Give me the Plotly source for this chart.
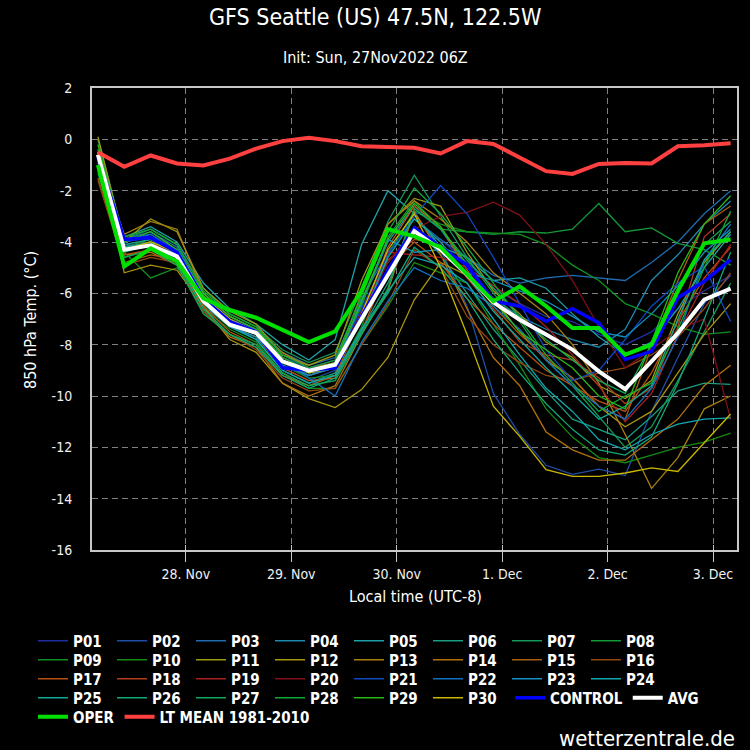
import pandas as pd
import plotly.graph_objects as go

# ---------------- data ----------------
TIMES = pd.date_range("2022-11-27 04:00", periods=25, freq="6h")
DAY_TICKS = ["2022-11-28", "2022-11-29", "2022-11-30", "2022-12-01", "2022-12-02", "2022-12-03"]
DAY_LABELS = ["28. Nov", "29. Nov", "30. Nov", "1. Dec", "2. Dec", "3. Dec"]
Y_TICKS = [-16, -14, -12, -10, -8, -6, -4, -2, 0, 2]
Y_LABELS = ["-16", "-14", "-12", "-10", "-8", "-6", "-4", "-2", "0", "2"]

P01 = [-0.7, -4.0, -3.7, -4.3, -6.1, -7.0, -7.4, -8.5, -9.0, -8.7, -6.8, -4.8, -3.7, -3.9, -4.8, -5.8, -6.4, -6.9, -7.1, -7.6, -8.0, -7.5, -6.6, -5.9, -5.3]
P02 = [-0.9, -4.3, -4.0, -4.6, -6.3, -7.2, -7.6, -8.9, -9.4, -9.0, -6.9, -4.5, -2.9, -4.3, -6.5, -9.9, -11.5, -12.7, -13.05, -12.85, -13.1, -10.6, -8.5, -6.4, -5.3]
P03 = [-0.5, -3.9, -3.6, -4.2, -6.0, -6.9, -7.4, -8.3, -8.8, -8.5, -6.2, -4.4, -3.1, -3.9, -4.6, -5.3, -5.6, -5.4, -5.3, -5.4, -5.5, -4.8, -4.0, -2.9, -2.0]
P04 = [-0.6, -4.0, -3.8, -4.4, -6.2, -7.1, -7.5, -8.6, -9.2, -8.8, -6.4, -4.0, -2.6, -3.5, -5.0, -6.2, -6.9, -7.4, -7.8, -8.1, -7.4, -5.5, -4.5, -3.3, -2.4]
P05 = [-0.4, -3.8, -3.4, -4.0, -5.6, -6.6, -7.2, -8.0, -8.6, -7.8, -4.1, -2.0, -2.9, -4.2, -4.6, -5.5, -5.4, -5.8, -6.8, -7.7, -8.4, -7.9, -6.6, -5.0, -3.7]
P06 = [-0.8, -4.4, -4.1, -4.8, -6.5, -7.3, -7.8, -9.0, -9.5, -9.1, -7.4, -5.6, -3.4, -4.5, -6.0, -7.4, -8.6, -9.8, -10.9, -11.3, -11.7, -10.8, -9.8, -9.5, -9.55]
P07 = [0.0, -3.9, -3.5, -4.1, -5.8, -6.8, -7.3, -8.2, -8.7, -8.3, -5.8, -3.2, -1.4, -3.0, -4.6, -6.0, -7.1, -8.6, -9.6, -10.8, -12.0, -11.2, -9.4, -7.5, -5.6]
P08 = [-0.7, -4.2, -3.9, -4.5, -6.3, -7.2, -7.6, -8.7, -9.1, -8.8, -6.5, -3.8, -2.4, -3.5, -3.6, -3.7, -3.6, -3.65, -3.5, -2.5, -3.6, -3.45, -4.05, -4.3, -4.9]
P09 = [-0.6, -4.4, -5.4, -5.0, -6.4, -7.3, -7.7, -8.8, -9.3, -9.2, -7.3, -4.5, -2.8, -3.3, -3.6, -3.65, -3.7, -4.1, -4.9, -5.5, -6.4, -6.8, -7.3, -7.6, -7.5]
P10 = [-1.1, -4.6, -4.3, -4.9, -6.6, -7.4, -7.9, -9.1, -9.7, -9.7, -8.0, -6.5, -4.8, -5.2, -5.6, -7.2, -8.8, -10.5, -11.6, -12.4, -12.6, -12.3, -12.0, -11.8, -11.45]
P11 = [0.1, -4.0, -3.1, -3.6, -5.8, -6.7, -7.2, -8.4, -8.8, -8.4, -5.5, -3.3, -2.3, -2.6, -4.4, -5.9, -6.8, -7.9, -8.5, -9.6, -10.1, -9.4, -6.8, -4.8, -3.6]
P12 = [-0.5, -5.2, -4.9, -5.1, -6.5, -7.8, -8.3, -9.5, -10.1, -10.45, -9.75, -8.5, -6.25, -4.8, -5.3, -6.2, -7.5, -8.6, -9.3, -10.4, -11.2, -10.6, -9.1, -7.6, -6.4]
P13 = [-0.9, -3.7, -3.2, -3.5, -6.0, -6.9, -7.4, -8.3, -8.9, -8.7, -6.0, -3.3, -2.4, -3.1, -4.0, -5.2, -6.0, -6.8, -8.0, -9.5, -11.5, -13.6, -12.4, -10.5, -10.0]
P14 = [-1.2, -4.5, -4.4, -4.9, -6.7, -7.7, -8.1, -9.5, -10.0, -9.6, -7.6, -5.9, -2.8, -4.5, -6.6, -8.5, -9.6, -11.4, -12.1, -12.5, -12.5, -11.7, -10.9, -9.6, -8.8]
P15 = [-1.5, -4.8, -4.5, -4.7, -6.5, -7.5, -8.0, -9.2, -9.6, -9.2, -6.9, -4.2, -2.6, -3.4, -5.1, -6.5, -7.6, -8.5, -9.3, -10.4, -10.9, -8.1, -5.5, -3.3, -2.6]
P16 = [-1.6, -4.9, -4.6, -4.8, -6.7, -7.6, -8.2, -9.3, -9.8, -9.7, -8.0, -6.4, -4.3, -5.0, -6.9, -8.0, -8.7, -9.2, -9.4, -9.1, -8.9, -8.4, -7.7, -6.6, -5.2]
P17 = [-1.0, -4.5, -4.3, -4.7, -6.4, -7.3, -7.7, -8.9, -9.4, -9.3, -7.5, -5.0, -4.0, -4.8, -6.2, -7.2, -8.1, -9.0, -9.6, -10.2, -10.6, -9.1, -7.1, -5.4, -4.2]
P18 = [-0.8, -4.3, -4.0, -4.5, -6.2, -7.1, -7.5, -8.7, -9.1, -8.9, -7.0, -4.7, -3.9, -4.1, -5.4, -6.6, -7.9, -8.4, -8.6, -9.3, -10.3, -9.7, -7.3, -3.8, -2.9]
P19 = [-0.7, -4.2, -4.0, -4.6, -6.3, -7.2, -7.6, -8.8, -9.2, -8.9, -6.9, -4.4, -4.5, -4.6, -5.0, -5.7, -6.4, -7.3, -8.4, -9.6, -11.0, -9.9, -7.6, -5.6, -4.1]
P20 = [-0.9, -4.2, -4.0, -4.5, -6.2, -7.0, -7.4, -8.5, -8.9, -8.6, -6.7, -4.8, -3.5, -3.0, -2.85, -2.45, -2.95, -4.1, -5.5, -7.3, -8.9, -8.2, -7.4, -7.0, -10.9]
P21 = [-0.6, -4.0, -3.8, -4.3, -6.1, -7.0, -7.4, -8.5, -8.9, -8.6, -6.6, -4.5, -3.0, -1.8, -2.9, -4.6, -6.4, -8.2, -9.4, -9.0, -7.8, -6.5, -5.6, -4.95, -7.1]
P22 = [-0.5, -3.9, -3.7, -4.4, -6.2, -7.1, -7.5, -8.6, -9.3, -10.0, -7.9, -6.3, -5.0, -5.5, -5.8, -6.5, -7.4, -8.6, -9.6, -10.4, -10.9, -9.7, -7.7, -4.7, -3.3]
P23 = [-0.7, -4.1, -4.2, -4.7, -6.3, -7.3, -7.7, -8.8, -9.2, -8.9, -6.3, -3.9, -4.4, -4.3, -5.2, -5.5, -5.9, -6.3, -6.9, -7.5, -7.7, -6.8, -5.7, -4.4, -3.5]
P24 = [-0.8, -4.3, -4.1, -4.6, -6.4, -7.3, -7.8, -9.0, -9.5, -9.2, -7.4, -5.9, -4.6, -4.9, -5.6, -7.0, -8.4, -9.7, -10.6, -11.7, -12.1, -11.5, -11.1, -10.9, -10.85]
P25 = [-0.6, -4.1, -3.9, -4.5, -6.3, -7.2, -7.6, -8.7, -9.1, -8.9, -7.0, -4.6, -3.1, -4.0, -5.3, -6.7, -7.8, -8.9, -9.9, -10.9, -10.4, -9.6, -7.0, -4.7, -3.6]
P26 = [-0.5, -4.2, -4.0, -4.8, -6.6, -7.6, -8.1, -9.2, -9.7, -9.3, -7.5, -6.0, -4.2, -5.0, -6.2, -7.8, -9.1, -10.3, -11.3, -12.1, -12.3, -11.6, -9.5, -7.0, -4.4]
P27 = [-1.3, -4.6, -4.3, -4.9, -6.8, -7.6, -8.0, -9.1, -9.6, -9.4, -7.6, -5.8, -2.7, -3.5, -4.7, -5.8, -6.9, -7.8, -8.6, -9.4, -9.9, -8.0, -6.0, -4.1, -3.2]
P28 = [-0.4, -3.8, -3.5, -4.1, -5.9, -6.8, -7.3, -8.4, -8.9, -8.6, -6.1, -3.6, -1.9, -2.9, -4.2, -5.6, -7.0, -8.4, -9.5, -10.6, -10.0, -9.5, -7.4, -5.0, -2.8]
P29 = [-0.2, -4.0, -3.6, -4.3, -6.0, -6.9, -7.4, -8.5, -9.0, -8.7, -6.3, -3.9, -2.5, -3.4, -4.9, -6.3, -7.5, -8.2, -8.9, -10.0, -10.5, -7.9, -5.2, -3.3, -2.2]
P30 = [-0.5, -4.3, -4.0, -4.4, -6.1, -7.0, -7.5, -8.6, -9.1, -8.9, -6.8, -4.3, -2.9, -5.0, -7.6, -10.4, -11.57, -12.87, -13.13, -13.13, -13.0, -12.8, -12.94, -11.8, -10.7]

CONTROL = [-0.7, -3.9, -3.83, -4.4, -6.2, -7.1, -7.5, -8.9, -9.0, -8.9, -6.9, -5.1, -3.45, -4.2, -4.9, -6.3, -6.5, -7.09, -6.6, -7.15, -8.58, -8.26, -6.17, -5.53, -4.69]
AVG = [-0.6, -4.3, -4.13, -4.56, -6.3, -7.22, -7.54, -8.65, -9.01, -8.78, -7.0, -5.3, -3.58, -4.3, -5.27, -6.35, -7.03, -7.6, -8.19, -9.04, -9.73, -8.65, -7.55, -6.25, -5.82]
OPER = [-1.0, -4.95, -4.25, -4.75, -6.2, -6.65, -6.95, -7.42, -7.9, -7.48, -5.9, -3.5, -3.78, -4.2, -5.27, -6.31, -5.73, -6.5, -7.35, -7.35, -8.39, -8.0, -5.9, -4.05, -3.9]
LT_MEAN = [-0.5, -1.07, -0.63, -0.94, -1.02, -0.75, -0.36, -0.07, 0.06, -0.07, -0.27, -0.29, -0.33, -0.55, -0.07, -0.18, -0.72, -1.24, -1.35, -0.96, -0.92, -0.94, -0.27, -0.23, -0.15]

MEMBER_NAMES = ["P%02d" % i for i in range(1, 31)]
MEMBER_SERIES = [P01, P02, P03, P04, P05, P06, P07, P08, P09, P10,
                 P11, P12, P13, P14, P15, P16, P17, P18, P19, P20,
                 P21, P22, P23, P24, P25, P26, P27, P28, P29, P30]

# ---------------- style ----------------
MEMBER_COLORS = ["#1f2f9f", "#1f4fa8", "#1f6cb0", "#1f88b0", "#1fa0a8", "#1a9c80",
                 "#159858", "#149838", "#109020", "#148a10", "#9a9a10", "#a89510",
                 "#a88010", "#b07010", "#a85c10", "#904810", "#b85010", "#b03c1c",
                 "#a82020", "#801018", "#1048c0", "#1070c0", "#1090c0", "#10a8b0",
                 "#10a898", "#10a878", "#10a858", "#10a838", "#28b818", "#c8b800"]
FONT = "DejaVu Sans Condensed, DejaVu Sans, sans-serif"
L, R, T, B = 92, 737, 88, 550


def px_x(x):
    return (x - L) / (R - L)


def px_y(y):
    return (B - y) / (B - T)


fig = go.Figure()
for i, (name, vals, col) in enumerate(zip(MEMBER_NAMES, MEMBER_SERIES, MEMBER_COLORS)):
    leg = ["legend", "legend2", "legend3", "legend4"][i // 8]
    fig.add_trace(go.Scatter(x=TIMES, y=vals, mode="lines", name=name,
                             line=dict(color=col, width=1.3), legend=leg))

fig.add_trace(go.Scatter(x=TIMES, y=CONTROL, mode="lines", name="CONTROL",
                         line=dict(color="#0000ff", width=3.5), legend="legend5"))
fig.add_trace(go.Scatter(x=TIMES, y=AVG, mode="lines", name="AVG",
                         line=dict(color="#ffffff", width=4), legend="legend5"))
fig.add_trace(go.Scatter(x=TIMES, y=OPER, mode="lines", name="OPER",
                         line=dict(color="#00e000", width=4), legend="legend6"))
fig.add_trace(go.Scatter(x=TIMES, y=LT_MEAN, mode="lines", name="LT MEAN 1981-2010",
                         line=dict(color="#ff4040", width=4), legend="legend6"))
fig.add_trace(go.Scatter(x=[], y=[], xaxis="x2", showlegend=False))

XRANGE = ["2022-11-27 02:39", "2022-12-03 05:27"]
grid = dict(showgrid=True, gridcolor="#808080", gridwidth=1, griddash="6px,4px")

fig.update_layout(
    width=750, height=750,
    margin=dict(l=L, r=750 - R, t=T, b=750 - B, autoexpand=False),
    paper_bgcolor="black", plot_bgcolor="black",
    font=dict(family=FONT, color="white", size=14),
    xaxis=dict(type="date", range=XRANGE, tickvals=DAY_TICKS, ticktext=DAY_LABELS,
               ticks="outside", ticklen=10, tickwidth=1, tickcolor="#c8c8c8",
               tickfont=dict(size=14, color="#f0f0f0"),
               showline=True, mirror=True, linecolor="#c8c8c8", linewidth=2,
               zeroline=False, **grid),
    xaxis2=dict(type="date", range=XRANGE, overlaying="x", anchor="y", side="bottom",
                tickvals=DAY_TICKS, ticks="inside", ticklen=5, tickwidth=1,
                tickcolor="#c8c8c8", showticklabels=False, showgrid=False,
                showline=False, zeroline=False),
    yaxis=dict(range=[-16, 2], tickvals=Y_TICKS, ticktext=Y_LABELS,
               ticks="outside", ticklen=15, tickcolor="rgba(0,0,0,0)",
               tickfont=dict(size=14, color="#f0f0f0"),
               showline=True, mirror=True, linecolor="#c8c8c8", linewidth=2,
               zeroline=False, **grid),
    showlegend=True,
)

leg_common = dict(orientation="h", xanchor="left", yanchor="middle",
                  bgcolor="rgba(0,0,0,0)", borderwidth=0, itemwidth=30,
                  font=dict(family=FONT, size=15, color="white", weight="bold"))
rows_y = [641, 660, 679, 698, 717]
fig.update_layout(
    legend=dict(x=px_x(33), y=px_y(rows_y[0]), entrywidth=34, **leg_common),
    legend2=dict(x=px_x(33), y=px_y(rows_y[1]), entrywidth=34, **leg_common),
    legend3=dict(x=px_x(33), y=px_y(rows_y[2]), entrywidth=34, **leg_common),
    legend4=dict(x=px_x(33), y=px_y(rows_y[3]), entrywidth=34, **leg_common),
    legend5=dict(x=px_x(510), y=px_y(rows_y[3]), **leg_common),
    legend6=dict(x=px_x(33), y=px_y(rows_y[4]), **leg_common),
)

ann = [
    dict(text="GFS Seattle (US) 47.5N, 122.5W", x=px_x(375), y=px_y(17),
         font=dict(size=23, color="white")),
    dict(text="Init: Sun, 27Nov2022 06Z", x=px_x(375), y=px_y(57),
         font=dict(size=16, color="white")),
    dict(text="Local time (UTC-8)", x=px_x(415), y=px_y(596),
         font=dict(size=16, color="white")),
    dict(text="850 hPa Temp. (°C)", x=px_x(30), y=px_y(320), textangle=-90,
         font=dict(size=16, color="white")),
    dict(text="wetterzentrale.de", x=px_x(737), y=px_y(738), xanchor="right",
         font=dict(size=22, color="white")),
]
for a in ann:
    a.setdefault("xanchor", "center")
    fig.add_annotation(xref="paper", yref="paper", showarrow=False,
                       yanchor="middle", **a)

fig.write_html("out.html", config={"displayModeBar": False},
               post_script="document.body.style.margin='0px';document.body.style.background='black';")
